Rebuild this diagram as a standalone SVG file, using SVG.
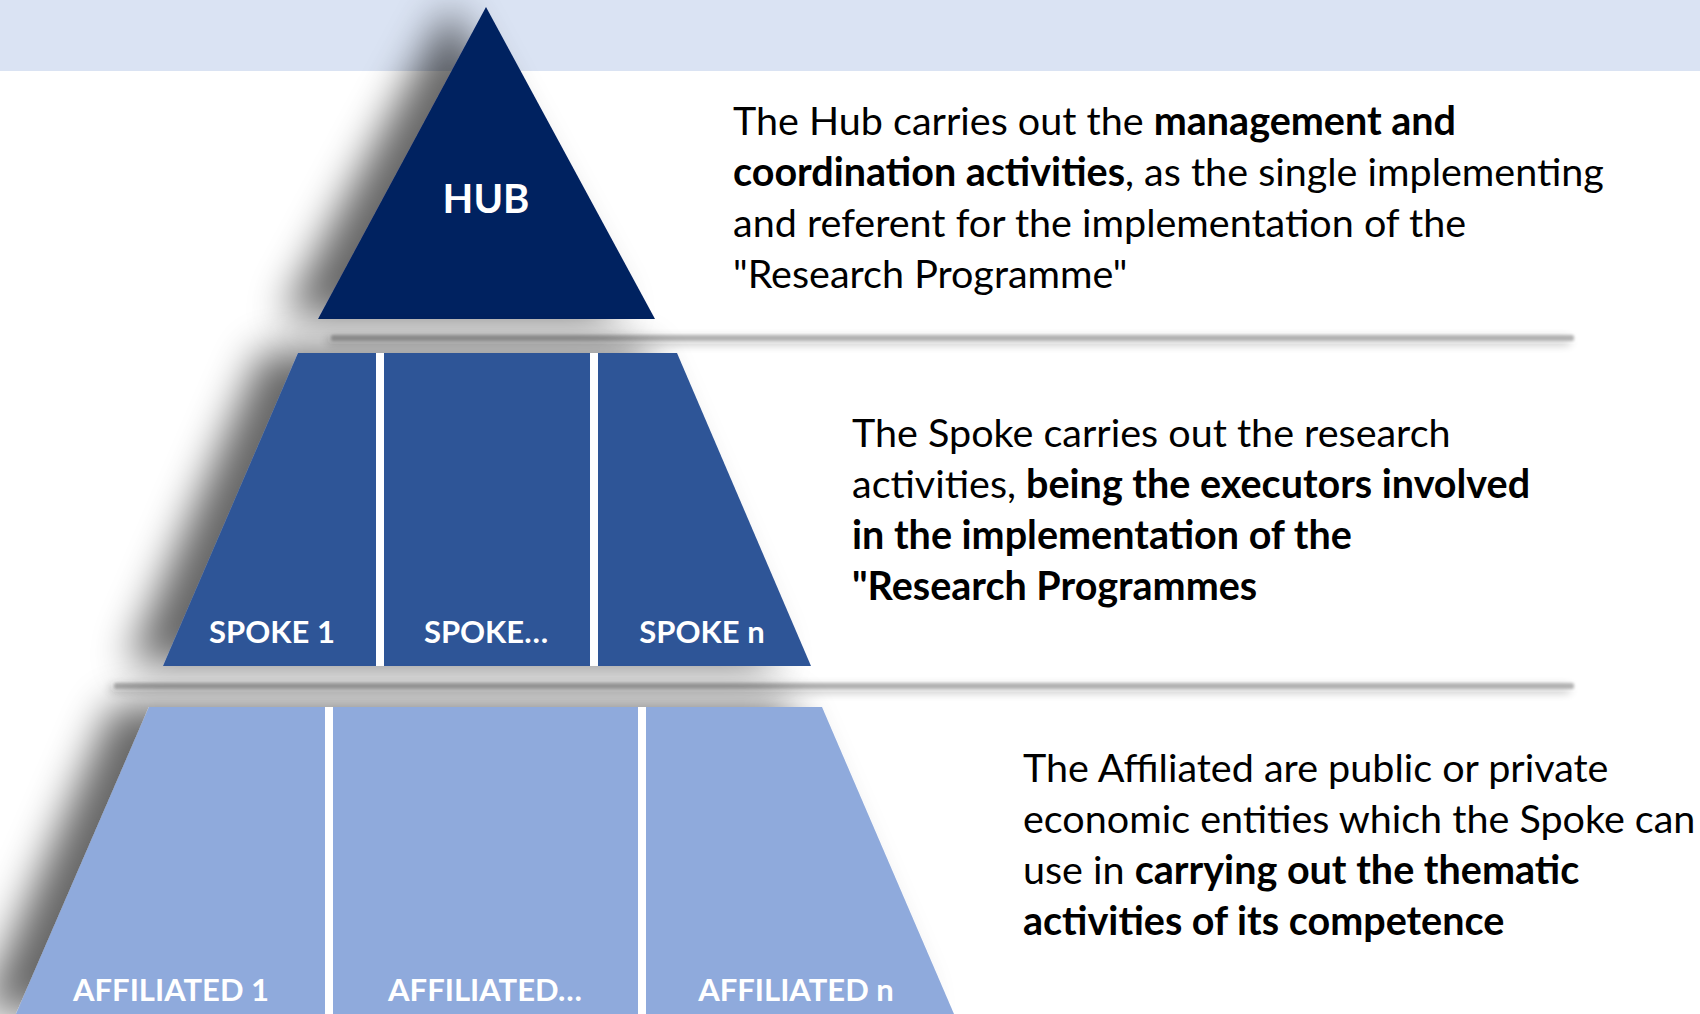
<svg xmlns="http://www.w3.org/2000/svg" width="1700" height="1014" viewBox="0 0 1700 1014">
<style>
.lbl{font-family:Lato,"Open Sans","Liberation Sans",sans-serif;font-weight:bold;fill:#ffffff;text-anchor:middle}
.body{font-family:Lato,"Open Sans","Liberation Sans",sans-serif;font-size:39.5px;fill:#000000}
.b{font-weight:bold}
.sep{fill:#b2b2b2}
.gap{fill:#ffffff}
</style>
<defs>
<filter id="shadow" x="-50%" y="-50%" width="200%" height="200%">
<feGaussianBlur in="SourceAlpha" stdDeviation="20"/>
<feOffset dx="-36" dy="-2" result="o"/>
<feComponentTransfer><feFuncA type="linear" slope="0.6"/></feComponentTransfer>
<feMerge><feMergeNode/><feMergeNode in="SourceGraphic"/></feMerge>
</filter>
<filter id="lineshadow" filterUnits="userSpaceOnUse" x="0" y="0" width="1700" height="1014">
<feGaussianBlur in="SourceGraphic" stdDeviation="1.4" result="g"/>
<feGaussianBlur in="SourceAlpha" stdDeviation="5"/>
<feOffset dx="-4" dy="3"/>
<feComponentTransfer><feFuncA type="linear" slope="0.3"/></feComponentTransfer>
<feMerge><feMergeNode/><feMergeNode in="g"/></feMerge>
</filter>
</defs>
<rect x="0" y="0" width="1700" height="1014" fill="#ffffff"/>
<rect x="0" y="0" width="1700" height="71" fill="#dae3f3"/>
<g id="connectors" filter="url(#lineshadow)">
<rect class="sep" x="331" y="335" width="1243" height="6" rx="2"/>
<rect class="sep" x="114" y="683" width="1460" height="6" rx="2"/>
</g>
<g id="hub">
<polygon points="486,7 655,319 318,319" fill="#002060" filter="url(#shadow)"/>
<text class="lbl" x="486" y="213" font-size="40">HUB</text>
</g>
<g id="spokes">
<polygon points="298,353 677,353 811,666 163,666" fill="#2f5597" filter="url(#shadow)"/>
<rect class="gap" x="376" y="353" width="8" height="313"/>
<rect class="gap" x="590" y="353" width="8" height="313"/>
</g>
<g id="spoke-1"><text class="lbl" x="272" y="643" font-size="31">SPOKE 1</text></g>
<g id="spoke-mid"><text class="lbl" x="486" y="643" font-size="31">SPOKE…</text></g>
<g id="spoke-n"><text class="lbl" x="702" y="643" font-size="31">SPOKE n</text></g>
<g id="affiliated">
<polygon points="149,707 822,707 954,1014 16,1014" fill="#8faadc" filter="url(#shadow)"/>
<rect class="gap" x="325" y="707" width="8" height="307"/>
<rect class="gap" x="638" y="707" width="8" height="307"/>
</g>
<g id="affiliated-1"><text class="lbl" x="171" y="1001" font-size="31">AFFILIATED 1</text></g>
<g id="affiliated-mid"><text class="lbl" x="485" y="1001" font-size="31">AFFILIATED…</text></g>
<g id="affiliated-n"><text class="lbl" x="796" y="1001" font-size="31">AFFILIATED n</text></g>
<g id="hub-text">
<text class="body" x="733" y="135">The Hub carries out the <tspan class="b">management and</tspan></text>
<text class="body" x="733" y="186"><tspan class="b">coordination activities</tspan>, as the single implementing</text>
<text class="body" x="733" y="237">and referent for the implementation of the</text>
<text class="body" x="733" y="288">"Research Programme"</text>
</g>
<g id="spoke-text">
<text class="body" x="852" y="447">The Spoke carries out the research</text>
<text class="body" x="852" y="498">activities, <tspan class="b">being the executors involved</tspan></text>
<text class="body" x="852" y="549" font-weight="bold">in the implementation of the</text>
<text class="body" x="852" y="600" font-weight="bold">"Research Programmes</text>
</g>
<g id="affiliated-text">
<text class="body" x="1023" y="782">The Affiliated are public or private</text>
<text class="body" x="1023" y="833">economic entities which the Spoke can</text>
<text class="body" x="1023" y="884">use in <tspan class="b">carrying out the thematic</tspan></text>
<text class="body" x="1023" y="935" font-weight="bold">activities of its competence</text>
</g>
</svg>
